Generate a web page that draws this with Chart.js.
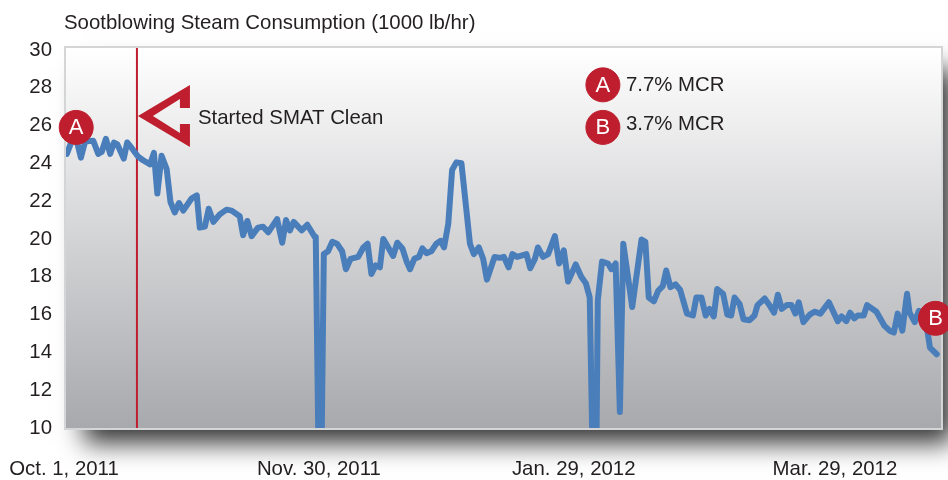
<!DOCTYPE html>
<html>
<head>
<meta charset="utf-8">
<title>Sootblowing Steam Consumption</title>
<script src="https://cdn.jsdelivr.net/npm/chart.js@4"></script>
<style>
    html, body { margin: 0; padding: 0; background: #fff; }
    #wrap { width: 948px; height: 480px; }
</style>
</head>
<body>
<div id="wrap"><canvas id="steam-chart" width="948" height="480"></canvas></div>
<script>
// values, x is days since Oct. 1, 2011
const days = [0.2, 1.3, 2.4, 3.5, 4.5, 6.4, 7.6, 8.4, 9.4, 10.4, 11.3, 12.1, 13.6, 14.4, 15.5, 17.0, 18.2, 19.8, 20.7, 21.5,
    22.5, 23.7, 24.6, 25.6, 26.6, 27.6, 29.6, 30.8, 31.5, 32.7, 33.6, 34.7, 36.2, 37.8, 39.0, 40.9, 41.7, 42.7, 43.7, 45.2,
    46.4, 47.6, 49.7, 50.9, 51.8, 52.7, 53.6, 55.5, 56.8, 58.6, 58.8, 59.4, 60.2, 60.7, 61.7, 62.7, 63.8, 65.0, 65.9, 67.0,
    68.8, 70.0, 71.0, 71.9, 72.9, 73.9, 74.7, 75.6, 77.0, 78.0, 79.2, 80.2, 81.0, 82.0, 83.1, 83.9, 84.9, 86.0, 87.2, 88.2,
    89.0, 90.0, 90.9, 91.9, 93.1, 95.1, 96.0, 97.2, 98.2, 99.1, 100.9, 102.1, 103.1, 104.2, 105.1, 106.2, 108.4, 109.3, 110.4, 111.1,
    112.3, 113.5, 115.1, 116.1, 117.2, 118.2, 120.0, 121.3, 122.4, 123.3, 123.9, 124.9, 125.2, 126.2, 127.6, 128.4, 129.4, 130.4, 131.2, 133.3,
    135.5, 136.4, 137.2, 138.4, 139.4, 140.5, 141.3, 142.3, 143.5, 144.6, 146.2, 147.6, 148.4, 149.6, 150.6, 151.5, 152.5, 153.3, 154.7, 155.7,
    156.6, 157.4, 158.6, 159.5, 160.9, 162.1, 162.8, 164.5, 165.6, 166.7, 167.6, 168.5, 169.7, 170.8, 171.7, 172.5, 173.6, 175.1, 176.2, 177.6,
    179.6, 181.7, 182.6, 183.7, 184.6, 185.6, 186.4, 187.8, 188.6, 190.8, 192.7, 193.9, 194.9, 195.8, 196.9, 198.0, 198.6, 199.8, 200.8, 202.1,
    202.9, 203.4, 205.0];
const steam = [24.5, 25.15, 25.3, 24.3, 25.15, 25.2, 24.5, 24.6, 25.3, 24.5, 25.1, 25.0, 24.25, 25.1, 24.8, 24.35, 24.15, 23.95, 24.55, 22.4,
    24.4, 23.7, 21.95, 21.4, 21.9, 21.5, 22.15, 22.3, 20.6, 20.65, 21.6, 20.9, 21.3, 21.55, 21.5, 21.2, 20.2, 20.95, 20.15, 20.6,
    20.65, 20.35, 21.05, 19.8, 21.0, 20.45, 20.9, 20.45, 20.75, 20.1, 20.1, 9.5, 9.5, 19.2, 19.35, 19.85, 19.75, 19.35, 18.4, 18.95,
    19.05, 19.55, 19.75, 18.15, 18.6, 18.5, 20.0, 19.65, 19.1, 19.8, 19.5, 18.8, 18.4, 18.95, 19.05, 19.5, 19.25, 19.35, 19.75, 19.9,
    19.55, 20.8, 23.65, 24.05, 24.0, 19.75, 19.2, 19.55, 18.95, 17.85, 19.05, 19.0, 19.05, 18.5, 19.2, 19.05, 19.2, 18.45, 18.95, 19.55,
    19.05, 19.2, 20.15, 18.7, 19.4, 17.75, 18.65, 18.0, 17.65, 16.9, 9.5, 9.5, 16.75, 18.8, 18.7, 18.4, 18.7, 10.85, 19.75, 16.4,
    19.97, 19.85, 16.9, 16.7, 17.25, 17.5, 18.33, 17.45, 17.6, 17.3, 16.05, 15.95, 16.9, 16.9, 15.95, 16.3, 15.9, 17.35, 17.1, 16.0,
    15.95, 16.9, 16.55, 15.75, 15.7, 15.95, 16.5, 16.85, 16.5, 16.1, 17.05, 16.3, 16.5, 16.5, 16.05, 16.65, 15.6, 16.0, 16.15, 16.05,
    16.65, 15.65, 15.9, 15.65, 16.1, 15.8, 15.95, 15.95, 16.5, 16.15, 15.4, 15.15, 15.05, 16.05, 15.15, 17.1, 16.1, 15.6, 16.2, 15.9,
    15.0, 14.25, 13.9];

const yTicks = [10, 12, 14, 16, 18, 20, 22, 24, 26, 28, 30];
const xTicks = [0, 60, 120, 181.5];
const xTickLabels = ['Oct. 1, 2011', 'Nov. 30, 2011', 'Jan. 29, 2012', 'Mar. 29, 2012'];

const chartTitle = 'Sootblowing Steam Consumption (1000 lb/hr)';
const startDay = 16.7;
const startLabel = 'Started SMAT Clean';
const markerDays = [2.4, 204.7, 126.4, 126.4];
const markerValues = [25.9, 15.8, 28.15, 25.9];
const markerLetters = ['A', 'B', 'A', 'B'];
const noteLabels = ['7.7% MCR', '3.7% MCR'];
const noteValues = [28.15, 26.1];

const TEXT = '#231f20';
const RED = '#be1e2d';
const FONT = '"Liberation Sans", Arial, sans-serif';

const panelPlugin = {
    id: 'panel',
    beforeDatasetsDraw(chart) {
        const { ctx, chartArea: a } = chart;
        const w = a.right - a.left, h = a.bottom - a.top;
        ctx.save();
        // drop shadow down and to the right
        ctx.save();
        ctx.shadowColor = 'rgba(0,0,0,0.8)';
        ctx.shadowBlur = 24;
        ctx.shadowOffsetX = 12;
        ctx.shadowOffsetY = 15;
        ctx.fillStyle = '#888';
        ctx.fillRect(a.left + 6, a.top + 6, w - 6, h - 6);
        ctx.restore();

        const g = ctx.createLinearGradient(0, a.top, 0, a.bottom);
        g.addColorStop(0, '#ffffff');
        g.addColorStop(1, '#a8a9ad');
        ctx.fillStyle = g;
        ctx.fillRect(a.left, a.top, w, h);

        ctx.lineWidth = 2;
        ctx.strokeStyle = '#d4d5d7';
        ctx.strokeRect(a.left - 1, a.top - 1, w + 2, h + 2);
        ctx.restore();
    }
};

const notesPlugin = {
    id: 'notes',
    afterDatasetsDraw(chart) {
        const { ctx, scales, chartArea } = chart;
        const x = scales.x, y = scales.y;
        ctx.save();

        // arrow pointing at the start line
        const ax = x.getPixelForValue(startDay) + 1;
        const ay = y.getPixelForValue(26.5);
        ctx.fillStyle = RED;
        ctx.beginPath();
        ctx.moveTo(ax, ay);
        ctx.lineTo(ax + 52, ay - 31);
        ctx.lineTo(ax + 52, ay - 8);
        ctx.lineTo(ax + 42, ay - 8);
        ctx.lineTo(ax + 42, ay - 17);
        ctx.lineTo(ax + 15, ay);
        ctx.lineTo(ax + 42, ay + 17);
        ctx.lineTo(ax + 42, ay + 8);
        ctx.lineTo(ax + 52, ay + 8);
        ctx.lineTo(ax + 52, ay + 31);
        ctx.closePath();
        ctx.fill();

        ctx.fillStyle = TEXT;
        ctx.font = '20.4px ' + FONT;
        ctx.textAlign = 'left';
        ctx.textBaseline = 'middle';
        ctx.fillText(chartTitle, chartArea.left - 2, 23);
        ctx.fillText(startLabel, ax + 60, ay + 2);

        noteLabels.forEach((t, i) => {
            ctx.fillText(t, x.getPixelForValue(markerDays[2 + i]) + 23, y.getPixelForValue(noteValues[i]) + 1);
        });

        // letters inside the red circles
        const pts = chart.getDatasetMeta(0).data;
        ctx.fillStyle = '#fff';
        ctx.font = '22px ' + FONT;
        ctx.textAlign = 'center';
        pts.forEach((p, i) => ctx.fillText(markerLetters[i], p.x, p.y + 1));
        ctx.restore();
    }
};

new Chart(document.getElementById('steam-chart'), {
    type: 'scatter',
    data: {
        datasets: [
            {
                label: 'Markers',
                data: markerDays.map((d, i) => ({ x: d, y: markerValues[i] })),
                backgroundColor: RED,
                borderColor: RED,
                pointRadius: 17,
                showLine: false,
                clip: false,
                order: 0
            },
            {
                label: 'Sootblowing steam',
                data: days.map((d, i) => ({ x: d, y: steam[i] })),
                showLine: true,
                borderColor: '#4a7ebb',
                borderWidth: 6,
                borderJoinStyle: 'round',
                borderCapStyle: 'round',
                pointRadius: 0,
                tension: 0,
                order: 1
            },
            {
                label: 'Started SMAT Clean',
                data: [{ x: startDay, y: 10 }, { x: startDay, y: 30.1 }],
                showLine: true,
                borderColor: RED,
                borderWidth: 2,
                pointRadius: 0,
                order: 2
            }
        ]
    },
    options: {
        responsive: false,
        animation: false,
        layout: { autoPadding: false, padding: { top: 48, right: 7 } },
        plugins: {
            legend: { display: false },
            tooltip: { enabled: false }
        },
        scales: {
            x: {
                type: 'linear',
                min: 0,
                max: 206,
                grid: { display: false },
                border: { display: false },
                afterBuildTicks: axis => { axis.ticks = xTicks.map(v => ({ value: v })); },
                afterFit: axis => {
                    axis.height = 52;
                    // the first label would otherwise push the plot to the right
                    axis.paddingLeft = 0;
                    axis.paddingRight = 0;
                },
                ticks: {
                    color: TEXT,
                    font: { family: FONT, size: 20.4 },
                    padding: 21,
                    labelOffset: -2,
                    autoSkip: false,
                    maxRotation: 0,
                    callback: v => xTickLabels[xTicks.indexOf(v)]
                }
            },
            y: {
                min: 10,
                max: 30.1,
                grid: { display: false },
                border: { display: false },
                afterBuildTicks: axis => { axis.ticks = yTicks.map(v => ({ value: v })); },
                afterFit: axis => { axis.width = 66; },
                ticks: {
                    color: TEXT,
                    font: { family: FONT, size: 20.4 },
                    padding: 6
                }
            }
        }
    },
    plugins: [panelPlugin, notesPlugin]
});
</script>
</body>
</html>
